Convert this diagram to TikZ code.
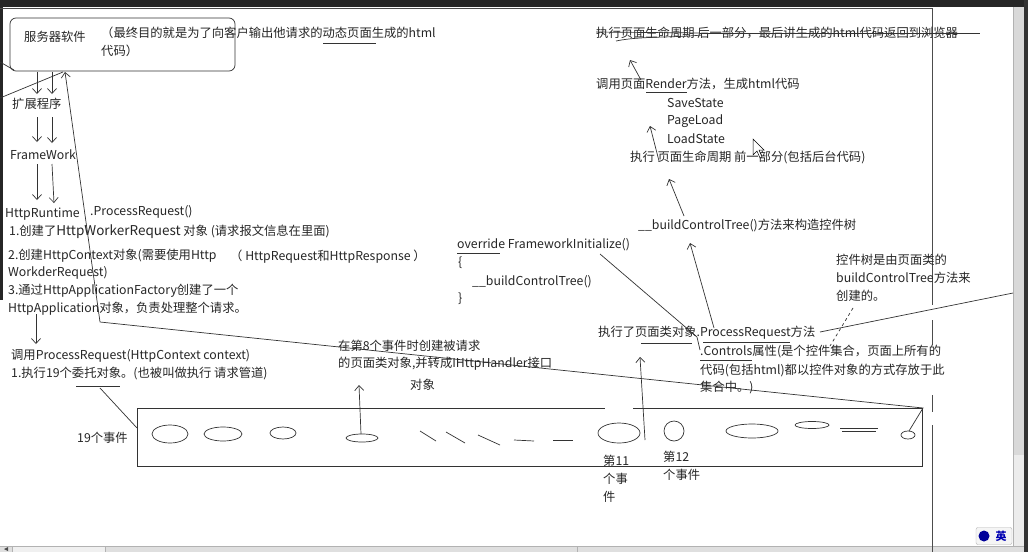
\documentclass[tikz,border=0pt]{standalone}
\usepackage{fontspec}
\setmainfont{Noto Sans CJK SC}
\usetikzlibrary{arrows.meta}
\tikzset{
  ln/.style={draw=black!80, line width=0.7pt},
  arr/.style={ln, -{Straight Barb[length=5pt,width=9pt]}},
  txt/.style={anchor=west, inner sep=0pt, font=\fontsize{12.3}{14}\selectfont, text=black!85},
  ell/.style={ln, fill=none},
}
\begin{document}
\begin{tikzpicture}[x=1pt,y=-1pt]
\useasboundingbox (0,0) rectangle (1028,552);
\fill[white] (0,0) rectangle (1028,552);
% window chrome
\fill[black!85] (0,0) rectangle (1028,7);
\fill[black!85] (0,7) rectangle (3,300);
\fill[black!80] (1024,0) rectangle (1028,552);
\fill[gray!30] (1013,7) rectangle (1024,455);
\fill[gray!15] (1013,455) rectangle (1024,546);
\draw[gray!60] (1013,7) -- (1013,546);
\fill[gray!25] (0,546) rectangle (1024,552);
\fill[gray!12] (12,546) rectangle (105,552);
\draw[gray!60] (0,546) -- (1024,546) (12,546) -- (12,552) (105,546) -- (105,552) (577,546) -- (577,552);
\fill[black!70] (4,549) -- (8,547) -- (8,551) -- cycle;
% IME icon
\node[draw=gray!60, fill=gray!8, rounded corners=2pt, minimum width=36pt, minimum height=17pt, inner sep=0pt] (ime) at (994,536) {};
\fill[blue!60!black] (984,536) circle (5.5);
\node[inner sep=0pt, text=blue!70!black, font=\fontsize{11}{12}\selectfont\bfseries] (imet) at (1001,536) {英};
% page border
\draw[ln, black!70] (0,8) -- (932,8);
\draw[ln, black!70] (932,8) -- (932,305) (932,320) -- (932,345) (932,395) -- (932,412) (932,425) -- (932,552);

% ---------- left part ----------
\node[draw=black!80, line width=0.7pt, rounded corners=6pt, minimum width=225pt, minimum height=53pt, inner sep=0pt] (srv) at (122.5,44.5) {};
\node[txt] (t1) at (24,37) {服务器软件};
\node[txt] (t2) at (101,33) {（最终目的就是为了向客户输出他请求的动态页面生成的html};
\node[txt] (t3) at (101,51) {代码）};
\draw[ln] (323,43) -- (376,43);

\node[txt] (t4) at (12,104) {扩展程序};
\node[txt] (t5) at (10,155) {FrameWork};
\node[txt] (t6) at (5,214) {HttpRuntime};
\node[txt] (t7) at (90,212) {.ProcessRequest()};
\node[txt] (t8) at (9,232) {1.创建了{\fontsize{13.5}{14}\selectfont HttpWorkerRequest} 对象 (请求报文信息在里面)};
\node[txt] (t9) at (8,256) {2.创建HttpContext对象(需要使用Http};
\node[txt] (t10) at (230,257) {（ HttpRequest和HttpResponse ）};
\node[txt] (t11) at (8,273) {WorkderRequest)};
\node[txt] (t12) at (8,291) {3.通过HttpApplicationFactory创建了一个};
\node[txt] (t13) at (8,309) {HttpApplication对象，负责处理整个请求。};
\node[txt] (t14) at (11,356) {调用ProcessRequest(HttpContext context)};
\node[txt] (t15) at (11,374) {1.执行19个委托对象。(也被叫做执行 请求管道)};
\draw[ln] (76,386) -- (120,386);

% left down arrows
\coordinate (a1) at (37,72); \coordinate (a2) at (37,94);
\coordinate (b1) at (52,72); \coordinate (b2) at (52,94);
\draw[arr] (a1) -- (a2);
\draw[arr] (b1) -- (b2);
\coordinate (a3) at (37,117); \coordinate (a4) at (37,142);
\coordinate (b3) at (52,117); \coordinate (b4) at (52,143);
\draw[arr] (a3) -- (a4);
\draw[arr] (b3) -- (b4);
\coordinate (a5) at (37,164); \coordinate (a6) at (37,200);
\coordinate (b5) at (52,164); \coordinate (b6) at (54,203);
\draw[arr] (a5) -- (a6);
\draw[arr] (b5) -- (b6);
% scratch lines at left
\coordinate (s1) at (0,98); \coordinate (s2) at (63,72);
\draw[ln] (s1) -- (s2);
\coordinate (s3) at (0,62); \coordinate (s4) at (14,70);
\draw[ln] (s3) -- (s4);

% long line
\coordinate (L0) at (65,72);
\coordinate (L1) at (100,322);
\coordinate (L2) at (923,408);
\coordinate (L3) at (909,431);
\draw[arr] (L1) -- (L0);
\draw[ln] (L1) -- (L2) -- (L3);

% arrow to ProcessRequest call
\coordinate (c1) at (36,314); \coordinate (c2) at (36,344);
\draw[arr] (c1) -- (c2);

% events box
\coordinate (e1) at (633,408); \coordinate (e2) at (922,408);
\coordinate (e3) at (922,466); \coordinate (e4) at (137,466);
\coordinate (e5) at (137,408); \coordinate (e6) at (605,408);
\draw[ln] (e1) -- (e2) -- (e3) -- (e4) -- (e5) -- (e6);
\coordinate (u1) at (100,388); \coordinate (u2) at (137,428);
\draw[ln] (u1) -- (u2);
\node[txt] (t16) at (77,438) {19个事件};

\draw[ell] (170,434) ellipse [x radius=18, y radius=9];
\draw[ell] (223,434) ellipse [x radius=19, y radius=7];
\draw[ell] (283,433) ellipse [x radius=13, y radius=6];
\draw[ell] (362,438) ellipse [x radius=16, y radius=4];
\draw[ln] (420,431) -- (436,441);
\draw[ln] (446,432) -- (465,443);
\draw[ln] (478,435) -- (500,445);
\draw[ln] (514,440) -- (534,441);
\draw[ln] (553,440) -- (573,440);
\draw[ell] (619,433) ellipse [x radius=21, y radius=10];
\draw[ell] (674,431) circle (10);
\draw[ell] (752,431) ellipse [x radius=26, y radius=7];
\draw[ell] (812,425) ellipse [x radius=17, y radius=3.5];
\draw[ln, line width=1pt] (840,428) -- (878,428) (842,431) -- (876,431);
\draw[ell] (908,435) ellipse [x radius=7, y radius=4];

\coordinate (p1) at (361,434); \coordinate (p2) at (359,385);
\draw[arr] (p1) -- (p2);
\node[txt] (t17) at (338,346) {在第8个事件时创建被请求};
\node[txt] (t18) at (338,364) {的页面类对象,并转成IHttpHandler接口};
\node[txt] (t19) at (410,385) {对象};

\node[txt] (t20) at (603,461) {第11};
\node[txt] (t21) at (603,479) {个事};
\node[txt] (t22) at (603,497) {件};
\node[txt] (t23) at (663,457) {第12};
\node[txt] (t24) at (663,475) {个事件};

% ---------- right part ----------
\node[txt] (r1) at (596,33) {执行页面生命周期 后一部分，最后讲生成的html代码返回到浏览器};
\draw[ln] (700,33) -- (980,33);
\draw[ln] (596,32) -- (700,33);
\draw[ln] (616,41) .. controls (640,36) and (670,38) .. (702,35);
\coordinate (q1) at (641,80); \coordinate (q2) at (630,60);
\draw[arr] (q1) -- (q2);
\node[txt] (r2) at (596,84) {调用页面Render方法，生成html代码};
\draw[ln] (646,92) -- (687,92);
\node[txt] (r3) at (667,103) {SaveState};
\node[txt] (r4) at (667,121) {PageLoad};
\node[txt] (r5) at (667,139) {LoadState};
\coordinate (q3) at (659,161); \coordinate (q4) at (650,126);
\draw[arr] (q3) -- (q4);
\node[txt] (r6) at (630,157) {执行 页面生命周期 前一部分(包括后台代码)};
% mouse cursor
\draw[black, fill=white, line width=0.5pt] (753,139) -- (753,155) -- (757,151) -- (760,158) -- (762,157) -- (759,150) -- (764,150) -- cycle;
\coordinate (q5) at (684,216); \coordinate (q6) at (669,179);
\draw[arr] (q5) -- (q6);
\node[txt] (r7) at (638,225) {\_\_buildControlTree()方法来构造控件树};
\coordinate (q7) at (714,328); \coordinate (q8) at (690,243);
\draw[arr] (q7) -- (q8);
\node[txt] (r8) at (457,245) {override FrameworkInitialize()};
\draw[ln] (457,253) -- (500,253);
\node[txt] (r9) at (458,263) {\{};
\node[txt] (r10) at (472,282) {\_\_buildControlTree()};
\node[txt] (r11) at (458,299) {\}};
\coordinate (f1) at (600,254); \coordinate (f2) at (697,337); \coordinate (f3) at (700,350);
\draw[ln] (f1) -- (f2) -- (f3);
\node[txt] (r12) at (598,333) {执行了页面类对象.ProcessRequest方法};
\draw[ln] (641,343) -- (692,343);
\draw[ln] (703,342) -- (790,342);
\node[txt] (r13) at (700,352) {.Controls属性(是个控件集合，页面上所有的};
\draw[ln] (700,360) -- (752,360);
\node[txt] (r14) at (700,370) {代码(包括html)都以控件对象的方式存放于此};
\node[txt] (r15) at (700,388) {集合中。)};
\coordinate (v1) at (645,440); \coordinate (v2) at (640,357);
\draw[arr] (v1) -- (v2);
\node[txt] (r16) at (836,260) {控件树是由页面类的};
\node[txt] (r17) at (836,278) {buildControlTree方法来};
\node[txt] (r18) at (836,296) {创建的。};
\coordinate (d1) at (853,308); \coordinate (d2) at (830,346);
\draw[ln, dashed] (d1) -- (d2);
\coordinate (g1) at (820,332); \coordinate (g2) at (1013,293);
\draw[ln] (g1) -- (g2);
\end{tikzpicture}
\end{document}
